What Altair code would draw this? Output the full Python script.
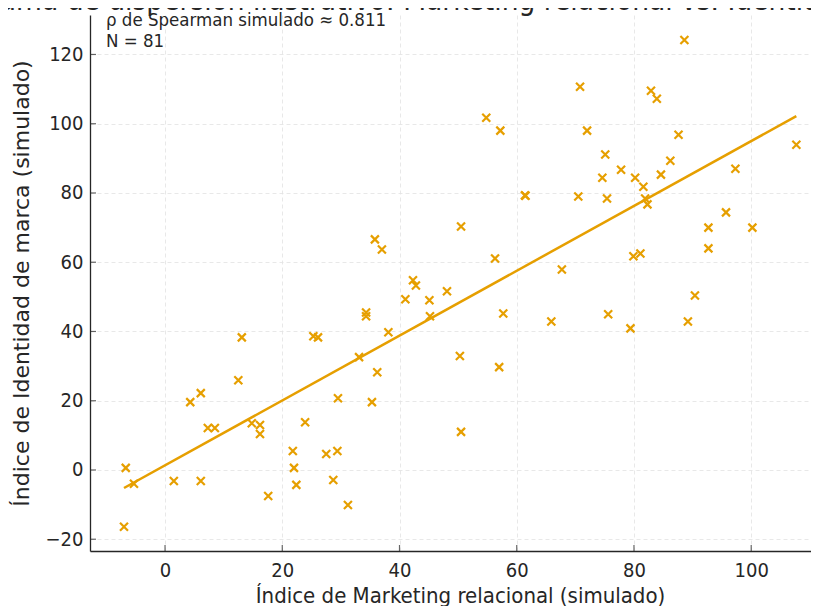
import altair as alt
import pandas as pd

# ---- data ----
x_vals = [-6.7, -5.3, -7.0, 1.5, 4.3, 6.1, 6.1, 7.3, 8.5, 12.5,
          13.1, 14.8, 16.2, 16.2, 17.6, 21.8, 22.0, 22.4, 23.9, 25.3,
          26.1, 27.5, 28.7, 29.4, 29.5, 31.2, 33.1, 34.3, 34.3, 35.3,
          35.8, 36.2, 37.0, 38.1, 41.0, 42.3, 42.8, 45.1, 45.2, 48.1,
          50.3, 50.5, 50.5, 54.8, 56.3, 57.0, 57.2, 57.7, 61.4, 61.5,
          65.9, 67.7, 70.5, 70.8, 72.0, 74.6, 75.1, 75.4, 75.6, 77.8,
          79.4, 79.9, 80.2, 81.1, 81.6, 81.9, 82.3, 82.9, 83.9, 84.6,
          86.2, 87.6, 88.6, 89.2, 90.4, 92.7, 92.7, 95.7, 97.3, 100.2,
          107.7]
y_vals = [0.6, -4.0, -16.4, -3.2, 19.6, 22.2, -3.2, 12.1, 12.1, 25.9,
          38.3, 13.5, 13.0, 10.4, -7.5, 5.5, 0.6, -4.3, 13.8, 38.6,
          38.3, 4.6, -2.9, 5.5, 20.7, -10.1, 32.6, 45.5, 44.4, 19.6,
          66.6, 28.2, 63.7, 39.8, 49.3, 54.8, 53.3, 49.0, 44.4, 51.6,
          32.9, 70.3, 11.0, 101.7, 61.1, 29.7, 98.0, 45.2, 79.3, 79.2,
          42.9, 57.9, 79.0, 110.7, 98.0, 84.4, 91.1, 78.4, 45.0, 86.7,
          40.9, 61.7, 84.4, 62.5, 81.8, 78.4, 76.7, 109.5, 107.2, 85.3,
          89.3, 96.8, 124.2, 42.9, 50.4, 70.0, 64.0, 74.4, 87.0, 70.0,
          93.9]
x_ticks = [0, 20, 40, 60, 80, 100]
y_ticks = [-20, 0, 20, 40, 60, 80, 100, 120]
title_text = "Diagrama de dispersión ilustrativo: Marketing relacional vs. Identidad de marca"
annotation_lines = ["ρ de Spearman simulado ≈ 0.811", "N = 81"]
x_title = "Índice de Marketing relacional (simulado)"
y_title = "Índice de Identidad de marca (simulado)"

df = pd.DataFrame({"x": x_vals, "y": y_vals})

W, H = 721, 536
COLOR = "#E69F00"
INK = "#262626"
FONT = "DejaVu Sans Condensed"

xscale = alt.Scale(domain=[-12.8, 110.2], nice=False, zero=False)
yscale = alt.Scale(domain=[-23.4, 131.4], nice=False, zero=False)

grid_kw = dict(grid=True, gridDash=[4, 3], gridColor="#e2e2e2", gridWidth=0.8,
               tickSize=0, domainColor=INK, domainWidth=1.3,
               labelFont=FONT, labelFontSize=20, labelColor=INK,
               titleFontSize=22, titleFontWeight="normal",
               titleColor=INK, titleBaseline="alphabetic")

xaxis = alt.Axis(values=x_ticks, title=x_title, labelPadding=9, titleFont=FONT,
                 titleX=370, titleY=51, **grid_kw)
yaxis = alt.Axis(values=y_ticks, title=y_title, labelPadding=7, titleFont="DejaVu Sans",
                 titleX=-62, titleY=H / 2, titleAngle=270, **grid_kw)

points = alt.Chart(df).mark_point(
    shape="M -1 -1 L 1 1 M -1 1 L 1 -1", filled=False, stroke=COLOR,
    strokeWidth=2.2, size=64, opacity=1
).encode(
    x=alt.X("x:Q", scale=xscale, axis=xaxis),
    y=alt.Y("y:Q", scale=yscale, axis=yaxis),
)

line = alt.Chart(df).transform_regression("x", "y").mark_line(
    color=COLOR, strokeWidth=2.5
).encode(
    x=alt.X("x:Q", scale=xscale, axis=xaxis),
    y=alt.Y("y:Q", scale=yscale, axis=yaxis),
)

xt = alt.Chart(pd.DataFrame({"x": x_ticks})).mark_tick(
    orient="vertical", color=INK, thickness=1.2, size=6
).encode(x=alt.X("x:Q", scale=xscale, axis=xaxis), y=alt.value(H - 3))

yt = alt.Chart(pd.DataFrame({"y": y_ticks})).mark_tick(
    orient="horizontal", color=INK, thickness=1.2, size=6
).encode(y=alt.Y("y:Q", scale=yscale, axis=yaxis), x=alt.value(3))

note = alt.Chart(alt.Data(values=[{"t": "\n".join(annotation_lines)}])).mark_text(
    align="left", baseline="alphabetic", font=FONT, fontSize=18.5, color=INK,
    lineBreak="\n", lineHeight=21
).encode(x=alt.value(16), y=alt.value(11), text="t:N")

# chart title (cropped at the top edge, as in the reference)
head = alt.Chart(alt.Data(values=[{"t": title_text}])).mark_text(
    align="left", baseline="alphabetic", font=FONT, fontSize=29.5, color=INK
).encode(x=alt.value(-162), y=alt.value(-5), text="t:N")

chart = alt.layer(points, line, xt, yt, note, head).properties(
    width=W, height=H,
    autosize=alt.AutoSizeParams(type="none"),
    padding={"left": 82, "top": 7, "right": 0, "bottom": 55},
    background="white",
).configure_view(stroke=None)

chart.save("out.html", embed_options={"renderer": "svg", "actions": False})
